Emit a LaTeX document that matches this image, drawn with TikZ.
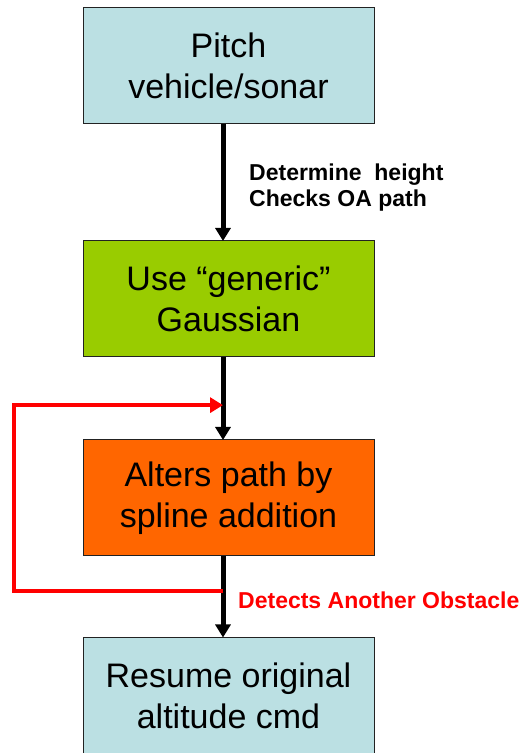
\documentclass[tikz,border=0pt]{standalone}
\usepackage{fontspec}
\setmainfont{Liberation Sans}
\usepackage{tikz}
\usetikzlibrary{positioning}
\usetikzlibrary{arrows.meta}

\definecolor{paleBlue}{HTML}{BBE0E3}
\definecolor{limeGreen}{HTML}{99CC00}
\definecolor{deepOrange}{HTML}{FF6600}
\definecolor{boxEdge}{HTML}{222222}

\begin{document}
\begin{tikzpicture}[
        x=1pt, y=1pt,
        stepbox/.style={rectangle, draw=boxEdge, line width=1pt, minimum width=291pt, minimum height=116pt, align=center, inner sep=0pt, outer sep=0pt, font=\fontsize{34}{41}\selectfont},
        flowline/.style={line width=5pt, black, -{Triangle[length=13pt,width=15pt]}},
        loopline/.style={line width=4pt, red, line join=miter},
        sidenote/.style={inner sep=0pt, align=left, font=\fontsize{23}{26}\selectfont\bfseries},
    ]
    \useasboundingbox (0,0) rectangle (524,753);
    \clip (0,0) rectangle (524,753);

    % Objects
    \node[stepbox, fill=paleBlue] (pitchSonar) at (228.5,687) {Pitch\\vehicle/sonar};
    \node[stepbox, fill=limeGreen] (genericGauss) at (228.5,454) {Use ``generic''\\Gaussian};
    \node[stepbox, fill=deepOrange] (splinePath) at (228.5,255) {Alters path by\\spline addition};
    \node[stepbox, fill=paleBlue] (resumeAlt) at (228.5,57.5) {Resume original\\altitude cmd};

    \node[sidenote, anchor=west] (heightNote) at (249,565) {Determine\ \ height\\Checks OA path};
    \node[sidenote, anchor=base west, text=red] (obstacleNote) at (238,144) {Detects Another Obstacle};

    \coordinate (loopLeft) at (14,0);

    % Lines
    \draw[flowline] ([xshift=-5.5pt]pitchSonar.south) -- ([xshift=-5.5pt]genericGauss.north);
    \draw[flowline] ([xshift=-5.5pt]genericGauss.south) -- ([xshift=-5.5pt]splinePath.north)
        coordinate[pos=0.58] (loopIn);
    \draw[flowline] ([xshift=-5.5pt]splinePath.south) -- ([xshift=-5.5pt]resumeAlt.north)
        coordinate[pos=0.43] (loopOut);

    \draw[loopline, -{Triangle[length=13pt,width=15pt]}] (loopOut) -- (loopOut -| loopLeft) -- (loopIn -| loopLeft) -- (loopIn);

\end{tikzpicture}
\end{document}
